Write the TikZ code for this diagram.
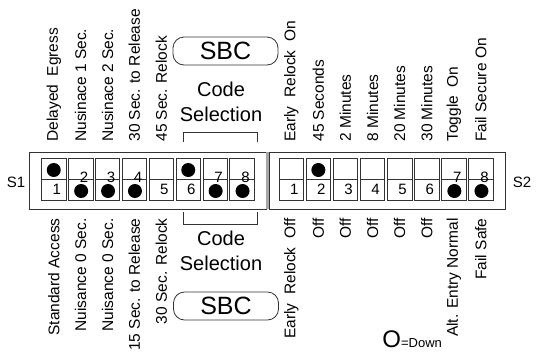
\documentclass[tikz,border=0pt]{standalone}
\usepackage{fontspec}
\setmainfont{Liberation Sans}
\begin{document}
\begin{tikzpicture}[x=1pt,y=-1pt,line width=0.8pt,
    box/.style={draw=black!80,inner sep=0pt,outer sep=0pt},
    cell/.style={box,minimum width=24.5pt,minimum height=42pt},
    num/.style={inner sep=0pt,font=\fontsize{15}{17}\selectfont},
    lbl/.style={rotate=90,inner sep=0pt,font=\fontsize{15.5}{18}\selectfont},
    toplbl/.style={lbl,anchor=west},
    botlbl/.style={lbl,anchor=east},
    sbc/.style={box,rounded corners=11pt,minimum width=105pt,minimum height=28pt,font=\fontsize{25}{28}\selectfont},
    codesel/.style={align=center,inner sep=0pt,font=\fontsize{20}{25}\selectfont}]
    \useasboundingbox (0,0) rectangle (536,354);
    % switch housings
    \node[box,minimum width=237pt,minimum height=57pt] (s1box) at (147.5,180.5) {};
    \node[box,minimum width=236pt,minimum height=57pt] (s2box) at (387,180.5) {};
    \fill[black!35] (s1box.north east) rectangle (s2box.south west);
    \node[font=\fontsize{15}{18}\selectfont] (s1) at (16,182) {S1};
    \node[font=\fontsize{15}{18}\selectfont] (s2) at (522,182) {S2};
    \coordinate (topline) at (0,142); \coordinate (botline) at (0,218);
    % the sixteen rockers
    \foreach \i in {1,...,8}{
      \node[cell] (a\i) at ({53.75+26.9*(\i-1)},179) {};
      \node[cell] (b\i) at ({291.25+27.1*(\i-1)},179) {};
      \draw[black!80] (a\i.west) -- (a\i.east);
      \draw[black!80] (b\i.west) -- (b\i.east);
    }
    \foreach \n/\k in {a1/1,a5/5,a6/6,b1/1,b2/2,b3/3,b4/4,b5/5,b6/6}
      \node[num] (n\n) at ([shift={(3,10)}]\n.center) {\k};
    \foreach \n/\k in {a2/2,a3/3,a4/4,a7/7,a8/8,b7/7,b8/8}
      \node[num] (n\n) at ([shift={(3.5,-1.5)}]\n.center) {\k};
    \foreach \n in {a1,a6,b2} \fill ([shift={(0,-9)}]\n.center) circle[radius=7pt];
    \foreach \n in {a2,a3,a4,a7,a8,b7,b8} \fill ([shift={(0.5,12)}]\n.center) circle[radius=7pt];
    % settings above and below
    \foreach \i/\t in {1/Delayed\ \ Egress,2/Nusinace 1 Sec.,3/Nusinace 2 Sec.,4/30 Sec. to Release,5/45 Sec. Relock}
      \node[toplbl] (ta\i) at (a\i |- topline) {\t};
    \foreach \i/\t in {1/Standard Access,2/Nuisance 0 Sec.,3/Nuisance 0 Sec.,4/15 Sec. to Release,5/30 Sec. Relock}
      \node[botlbl] (ba\i) at (a\i |- botline) {\t};
    \foreach \i/\t in {1/Early\ \ Relock\ \ On,2/45 Seconds,3/2 Minutes,4/8 Minutes,5/20 Minutes,6/30 Minutes,7/Toggle\ \ On,8/Fail Secure On}
      \node[toplbl] (tb\i) at (b\i |- topline) {\t};
    \foreach \i/\t in {1/Early\ \ Relock\ \ Off,2/Off,3/Off,4/Off,5/Off,6/Off,7/Alt. Entry Normal,8/Fail Safe}
      \node[botlbl] (bb\i) at (b\i |- botline) {\t};
    % code selection, top and bottom
    \node[sbc] (sbctop) at (225.5,51) {SBC};
    \node[codesel] (codetop) at (221,102) {Code\\Selection};
    \draw[black!80] (183,142) -- (183,132) -- (257,132) -- (257,142);
    \draw[black!80] (183,212) -- (183,224) -- (257,224) -- (257,212);
    \node[codesel] (codebot) at (221,251) {Code\\Selection};
    \node[sbc] (sbcbot) at (226,306) {SBC};
    \node[anchor=base west,inner sep=0pt] (legend) at (382,347)
      {{\fontsize{24}{24}\selectfont O}{\fontsize{13}{13}\selectfont =Down}};
\end{tikzpicture}
\end{document}
